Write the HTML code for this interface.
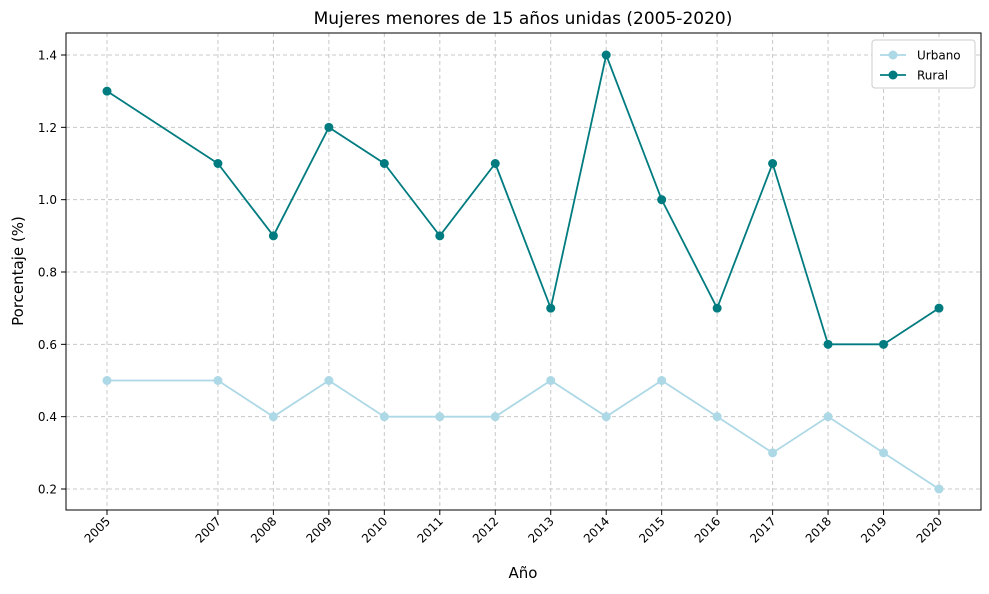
<!DOCTYPE html>
<html><head><meta charset="utf-8">
<style>
body{margin:0;background:#fff;font-family:"Liberation Sans","DejaVu Sans",sans-serif;}
svg text{font-family:"DejaVu Sans","Liberation Sans",sans-serif;}
</style></head>
<body>
<svg id="chart" width="989" height="589" xmlns="http://www.w3.org/2000/svg">
<text x="523" y="24" text-anchor="middle" font-size="17" fill="#000">Mujeres menores de 15 años unidas (2005-2020)</text>
<g id="grid"></g>
<rect x="66" y="33" width="915" height="477" fill="none" stroke="#000" stroke-width="1"/>
<g id="axes"></g>
<g id="series"></g>
<text x="523" y="578" text-anchor="middle" font-size="15">Año</text>
<text transform="translate(23,271) rotate(-90)" text-anchor="middle" font-size="15">Porcentaje (%)</text>
<g>
<rect x="872" y="40" width="103" height="48" fill="#fff" stroke="#ccc" rx="3"/>
<line x1="880" y1="55" x2="906" y2="55" stroke="#add8e6" stroke-width="1.8"/>
<circle cx="893" cy="55" r="4.5" fill="#add8e6"/>
<text x="917" y="59.5" font-size="12">Urbano</text>
<line x1="880" y1="75" x2="906" y2="75" stroke="#007b7f" stroke-width="1.8"/>
<circle cx="893" cy="75" r="4.5" fill="#007b7f"/>
<text x="917" y="79.5" font-size="12">Rural</text>
</g>
</svg>
<script>
const years=[2005,2007,2008,2009,2010,2011,2012,2013,2014,2015,2016,2017,2018,2019,2020];
const urbano=[0.5,0.5,0.4,0.5,0.4,0.4,0.4,0.5,0.4,0.5,0.4,0.3,0.4,0.3,0.2];
const rural=[1.3,1.1,0.9,1.2,1.1,0.9,1.1,0.7,1.4,1.0,0.7,1.1,0.6,0.6,0.7];
const yTicks=[0.2,0.4,0.6,0.8,1.0,1.2,1.4];
const NS="http://www.w3.org/2000/svg";
const x=v=>107+(v-2005)*(832/15);
const y=v=>489-(v-0.2)*(434/1.2);
function mk(t,a,p){const e=document.createElementNS(NS,t);for(const k in a)e.setAttribute(k,a[k]);p.appendChild(e);return e;}
const grid=document.getElementById('grid'),axes=document.getElementById('axes'),ser=document.getElementById('series');
years.forEach(yr=>{
const gl=mk('line',{x1:x(yr),x2:x(yr),y1:33,y2:510,stroke:'#c8c8c8','stroke-dasharray':'4,3'},grid);


mk('line',{x1:x(yr),x2:x(yr),y1:510,y2:515,stroke:'#000'},axes);
const t=mk('text',{x:x(yr)+4,y:522,'font-size':12,'text-anchor':'end',transform:`rotate(-45 ${x(yr)+4} 522)`},axes);
t.textContent=yr;


});
yTicks.forEach(v=>{
const gl=mk('line',{x1:66,x2:981,y1:y(v),y2:y(v),stroke:'#c8c8c8','stroke-dasharray':'4,3'},grid);


mk('line',{x1:61,x2:66,y1:y(v),y2:y(v),stroke:'#000'},axes);
const t=mk('text',{x:57,y:y(v)+4.5,'font-size':12,'text-anchor':'end'},axes);
t.textContent=v.toFixed(1);


});
function draw(vals,color,name){
const pl=mk('polyline',{points:vals.map((v,i)=>x(years[i])+','+y(v)).join(' '),fill:'none',stroke:color,'stroke-width':1.8},ser);


vals.forEach((v,i)=>{
const c=mk('circle',{cx:x(years[i]),cy:y(v),r:4.5,fill:color},ser);


});
}
draw(urbano,'#add8e6','urbano');
draw(rural,'#007b7f','rural');
</script>
</body></html>
